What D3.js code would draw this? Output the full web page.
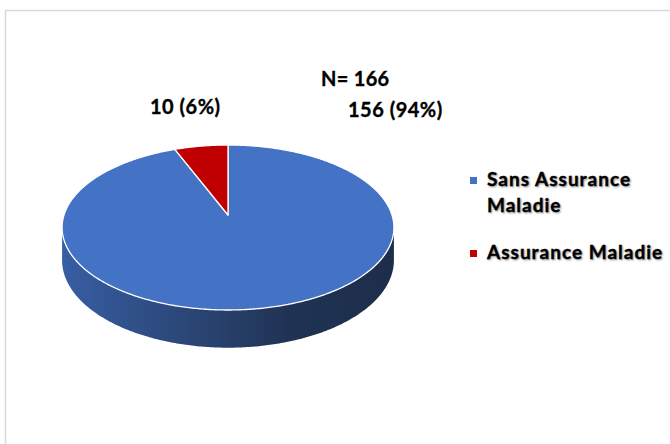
<!DOCTYPE html>
<html>
<head>
<meta charset="utf-8">
<script src="https://cdn.jsdelivr.net/npm/d3@7"></script>
<style>
  body { margin: 0; background: #fff; }
  text { font-family: Lato, "Open Sans", sans-serif; font-weight: 700; fill: #000; stroke: #000; stroke-width: 0.35px; }
  .legend text { text-shadow: 1px 1px 2px rgba(0,0,0,0.4); }
</style>
</head>
<body>
<div id="chart"></div>
<script>
const categories = ["Sans Assurance Maladie", "Assurance Maladie"];
const values = [156, 10];
const colors = ["#4472C4", "#C00000"];
const legendLines = [["Sans Assurance", "Maladie"], ["Assurance Maladie"]];

const W = 670, H = 444;

// pie geometry (perspective-tilted disc)
const cx = 228, cy = 215, rx = 164, ry = 80.6, persp = 0.1515, thick = 32;

const svg = d3.select("#chart").append("svg")
    .attr("width", W).attr("height", H);

// chart area border
svg.append("rect")
    .attr("x", 5.5).attr("y", 10.5)
    .attr("width", 720).attr("height", 500)
    .attr("fill", "none").attr("stroke", "#d9d9d9").attr("stroke-width", 1.5);

function project(theta, depth) {
    const px = Math.sin(theta), pz = Math.cos(theta);
    const s = 1 / (1 + persp * pz);
    return [cx + rx * px * s, cy - ry * pz * s + (depth || 0) * s];
}

function arcPoints(a0, a1, depth) {
    const n = Math.max(2, Math.ceil((a1 - a0) / 0.01));
    return d3.range(n + 1).map(i => project(a0 + (a1 - a0) * i / n, depth));
}

const pie = d3.pie().sort(null).startAngle(0).endAngle(2 * Math.PI);
const arcs = pie(values);
const line = d3.line();

// side gradients: light on the left, dark navy on the right
const defs = svg.append("defs");
colors.forEach((c, i) => {
    const base = d3.hsl(c);
    const shade = (k, l) => { const h = d3.hsl(base); h.l = base.l * l; h.s = base.s * k; return h + ""; };
    const g = defs.append("linearGradient")
        .attr("id", "side" + i)
        .attr("gradientUnits", "userSpaceOnUse")
        .attr("x1", cx - rx).attr("x2", cx + rx)
        .attr("y1", 0).attr("y2", 0);
    g.append("stop").attr("offset", 0).attr("stop-color", shade(0.95, 0.82));
    g.append("stop").attr("offset", 0.4).attr("stop-color", shade(0.9, 0.6));
    g.append("stop").attr("offset", 0.7).attr("stop-color", shade(0.85, 0.43));
    g.append("stop").attr("offset", 1).attr("stop-color", shade(0.85, 0.4));
});

// visible part of the side wall
const vis0 = Math.acos(-persp), vis1 = 2 * Math.PI - vis0;
const sides = svg.append("g");
arcs.forEach((d, i) => {
    const a0 = Math.max(d.startAngle, vis0), a1 = Math.min(d.endAngle, vis1);
    if (a0 >= a1) return;
    const pts = arcPoints(a0, a1, 0).concat(arcPoints(a0, a1, thick).reverse());
    sides.append("path")
        .attr("d", line(pts) + "Z")
        .attr("fill", "url(#side" + i + ")");
});

// top faces
svg.append("g").selectAll("path")
    .data(arcs)
    .join("path")
    .attr("d", d => line([[cx, cy]].concat(arcPoints(d.startAngle, d.endAngle, 0))) + "Z")
    .attr("fill", (d, i) => colors[i])
    .attr("stroke", "#fff")
    .attr("stroke-width", 1.3)
    .attr("stroke-linejoin", "round");

// data labels
const total = d3.sum(values);
const labelPos = [[348, 117], [150, 114]];
svg.append("text")
    .attr("x", 321).attr("y", 86)
    .style("font-size", "20px")
    .style("letter-spacing", "0.3px")
    .text("N= " + total);
svg.append("g").selectAll("text")
    .data(arcs)
    .join("text")
    .attr("x", (d, i) => labelPos[i][0])
    .attr("y", (d, i) => labelPos[i][1])
    .style("font-size", "20px")
    .style("letter-spacing", "0.5px")
    .text(d => d.value + " (" + Math.round(d.value / total * 100) + "%)");

// legend
const legend = svg.append("g").attr("class", "legend");
const legendY = [186, 259];
categories.forEach((c, i) => {
    const g = legend.append("g");
    g.append("rect")
        .attr("x", 470).attr("y", legendY[i] - 9)
        .attr("width", 7).attr("height", 7)
        .attr("fill", colors[i]);
    g.append("text")
        .attr("x", 487).attr("y", legendY[i])
        .style("font-size", "19px")
        .style("letter-spacing", "1px")
        .selectAll("tspan")
        .data(legendLines[i])
        .join("tspan")
        .attr("x", 487)
        .attr("dy", (d, j) => j === 0 ? 0 : 26)
        .text(d => d);
});
</script>
</body>
</html>
